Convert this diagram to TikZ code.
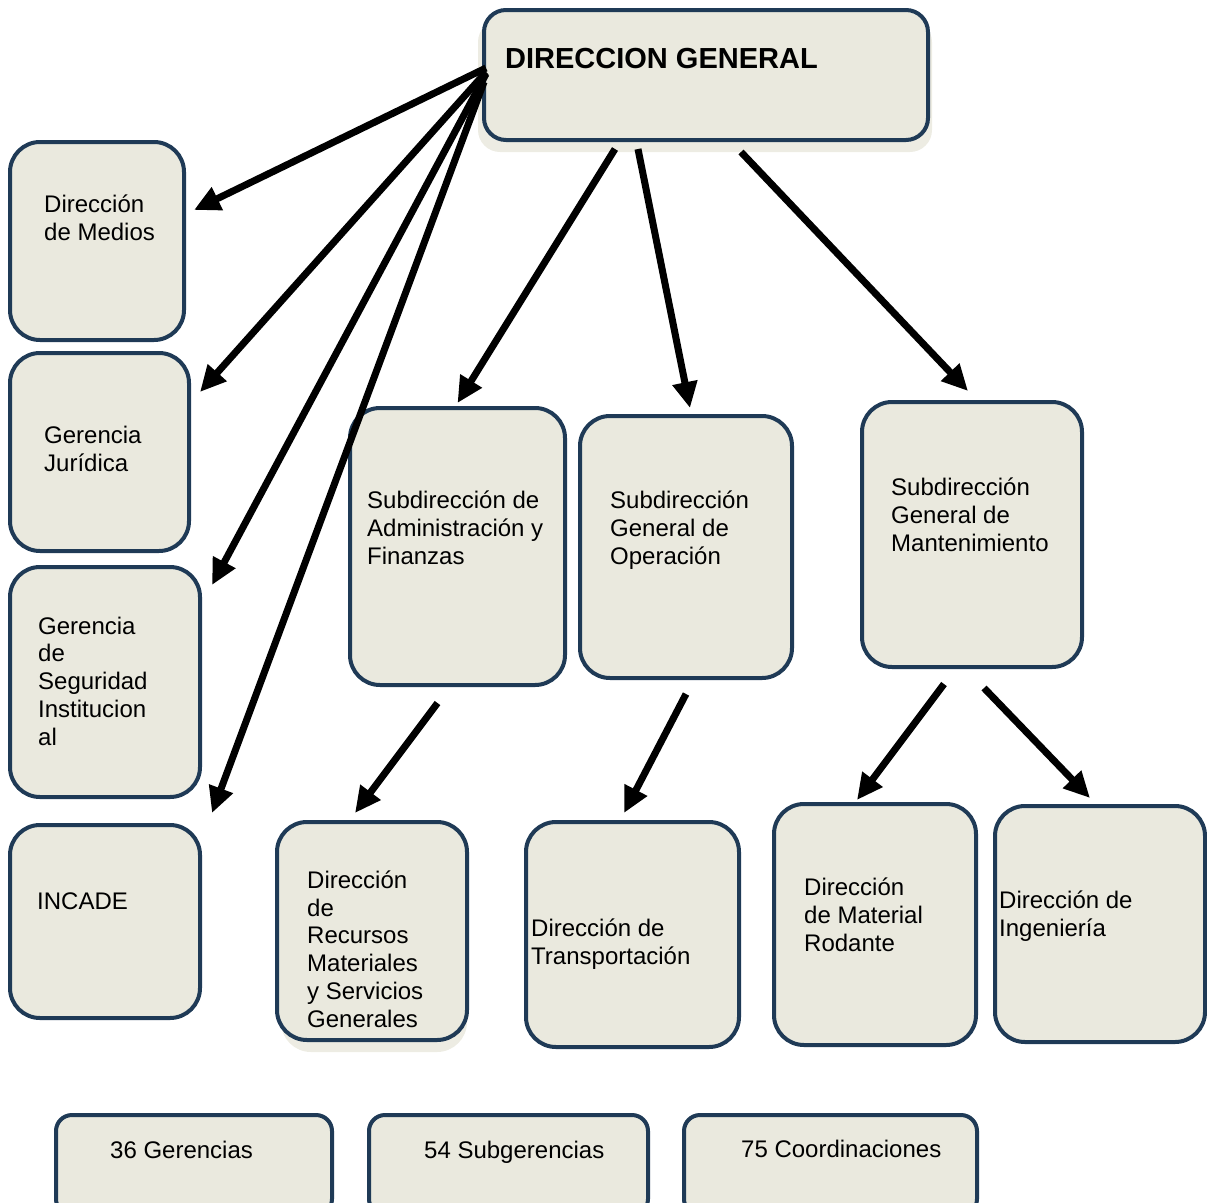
\documentclass[tikz,border=0pt]{standalone}
\usepackage{fontspec}
\setmainfont{Liberation Sans}
\usetikzlibrary{arrows.meta}
\definecolor{boxfill}{HTML}{EAE9DE}
\definecolor{boxline}{HTML}{1F3A56}
\begin{document}
\begin{tikzpicture}[x=1pt, y=-1pt,
    box/.style={draw=boxline, line width=4pt, fill=boxfill,
        rounded corners=30pt, inner sep=0pt},
    txt/.style={anchor=base west, align=left, inner sep=0pt,
        font=\fontsize{24}{27.7}\selectfont},
    arr/.style={line width=7pt, -{Triangle[length=26pt,width=24pt]}}]
\useasboundingbox (0,0) rectangle (1207,1202);
% shadows
\fill[boxfill!85, rounded corners=22pt] (478,20) rectangle (932,152);
\fill[boxfill!85, rounded corners=30pt] (281,832) rectangle (467,1052);
% boxes
\node[box, rounded corners=22pt, minimum width=444pt, minimum height=130pt] (dg) at (706,75) {};
\node[box, minimum width=174pt, minimum height=198pt] (medios) at (97,241) {};
\node[box, minimum width=179pt, minimum height=198pt] (juridica) at (99.5,452) {};
\node[box, minimum width=190pt, minimum height=230pt] (seguridad) at (105,682) {};
\node[box, minimum width=190pt, minimum height=193pt] (incade) at (105,921.5) {};
\node[box, minimum width=215pt, minimum height=277pt] (admin) at (457.5,546.5) {};
\node[box, minimum width=212pt, minimum height=262pt] (operacion) at (686,547) {};
\node[box, minimum width=220pt, minimum height=265pt] (mant) at (972,534.5) {};
\node[box, minimum width=190pt, minimum height=218pt] (recursos) at (372,931) {};
\node[box, minimum width=213pt, minimum height=225pt] (transp) at (632.5,934.5) {};
\node[box, minimum width=202pt, minimum height=241pt] (rodante) at (875,924.5) {};
\node[box, minimum width=210pt, minimum height=236pt] (ingenieria) at (1100,924) {};
\node[box, rounded corners=16pt, minimum width=276pt, minimum height=100pt] (gerencias) at (194,1165) {};
\node[box, rounded corners=16pt, minimum width=279pt, minimum height=100pt] (subger) at (508.5,1165) {};
\node[box, rounded corners=16pt, minimum width=293pt, minimum height=100pt] (coord) at (830.5,1165) {};
% texts (placed at the baseline of the last line)
\node[txt, font=\fontsize{29}{34}\selectfont\bfseries] at (505,68) {DIRECCION GENERAL};
\node[txt] at (44,240) {Dirección\\de Medios};
\node[txt] at (44,471) {Gerencia\\Jurídica};
\node[txt] at (38,745) {Gerencia\\de\\Seguridad\\Institucion\\al};
\node[txt] at (37,909) {INCADE};
\node[txt] at (367,564) {Subdirección de\\Administración y\\Finanzas};
\node[txt] at (610,564) {Subdirección\\General de\\Operación};
\node[txt] at (891,551) {Subdirección\\General de\\Mantenimiento};
\node[txt] at (307,1027) {Dirección\\de\\Recursos\\Materiales\\y Servicios\\Generales};
\node[txt] at (531,964) {Dirección de\\Transportación};
\node[txt] at (804,951) {Dirección\\de Material\\Rodante};
\node[txt] at (999,936) {Dirección de\\Ingeniería};
\node[txt] at (110,1158) {36 Gerencias};
\node[txt] at (424,1158) {54 Subgerencias};
\node[txt] at (741,1157) {75 Coordinaciones};
% arrows
\draw[arr] ([xshift=4pt,yshift=7pt]dg.west) -- ([xshift=8pt,yshift=31pt]medios.east);
\draw[arr] ([xshift=4pt,yshift=3pt]dg.west) -- ([xshift=9pt,yshift=60pt]juridica.east);
\draw[arr] ([xshift=4pt,yshift=1pt]dg.west) -- ([xshift=10pt,yshift=97pt]seguridad.east);
\draw[arr] ([xshift=2pt,yshift=-7pt]dg.west) -- ([xshift=10pt,yshift=10pt]incade.north east);
\draw[arr] ([xshift=-91pt,yshift=-7pt]dg.south) -- ([yshift=3pt]admin.north);
\draw[arr] ([xshift=-68pt,yshift=-7pt]dg.south) -- ([xshift=4pt,yshift=6pt]operacion.north);
\draw[arr] ([xshift=35pt,yshift=-10pt]dg.south) -- ([xshift=-4pt,yshift=9pt]mant.north);
\draw[arr] ([xshift=-20pt,yshift=-16pt]admin.south) -- ([xshift=-17pt,yshift=7pt]recursos.north);
\draw[arr] ([yshift=-14pt]operacion.south) -- ([xshift=-8.5pt,yshift=7pt]transp.north);
\draw[arr] ([xshift=-28pt,yshift=-15pt]mant.south) -- ([xshift=-18pt,yshift=2pt]rodante.north);
\draw[arr] ([xshift=12pt,yshift=-19pt]mant.south) -- ([xshift=-10pt,yshift=6pt]ingenieria.north);
\end{tikzpicture}
\end{document}
